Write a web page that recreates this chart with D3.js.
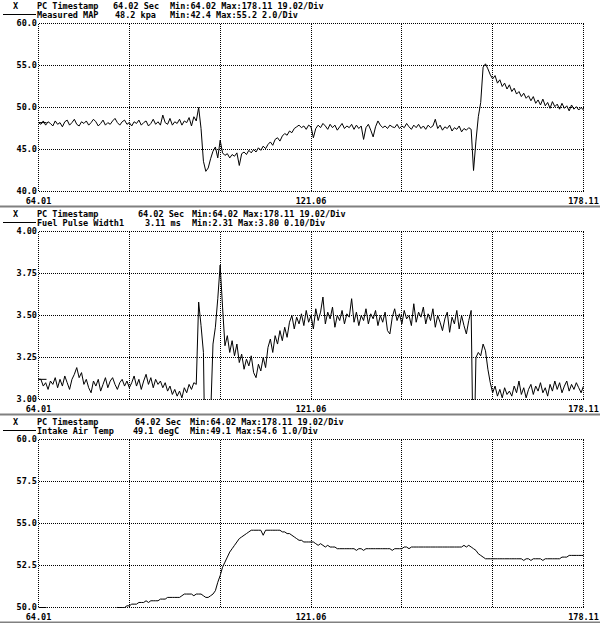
<!DOCTYPE html>
<html><head><meta charset="utf-8">
<script src="https://cdn.jsdelivr.net/npm/d3@7"></script>
<style>
html,body{margin:0;padding:0;background:#fff;}
svg{display:block;}
text{font-family:"DejaVu Sans Mono",monospace;font-size:8.5px;font-weight:bold;fill:#000;}
</style>
</head><body><svg id="c" width="600" height="623"></svg>
<script>
// ---- data ----
const timeStart = 64.01, timeEnd = 178.11;
const xGridValues = [64.01, 83.03, 102.04, 121.06, 140.08, 159.09, 178.11];
const xLabelValues = [64.01, 121.06, 178.11];
const xLabels = ["64.01", "121.06", "178.11"];
const timeHeader = ["PC Timestamp", "64.02 Sec", "Min:64.02 Max:178.11 19.02/Div"];
const channelNames = ["Measured MAP", "Fuel Pulse Width1", "Intake Air Temp"];
const cursorReadouts = ["48.2 kpa", "3.11 ms", "49.1 degC"];
const channelStats = ["Min:42.4 Max:55.2 2.0/Div", "Min:2.31 Max:3.80 0.10/Div", "Min:49.1 Max:54.6 1.0/Div"];
const yDomains = [[40, 60], [3, 4], [50, 60]];
const yTickValues = [[60, 55, 50, 45, 40], [4, 3.75, 3.5, 3.25, 3], [60, 57.5, 55, 52.5, 50]];
const yTickLabels = [["60.0", "55.0", "50.0", "45.0", "40.0"], ["4.00", "3.75", "3.50", "3.25", "3.00"], ["60.0", "57.5", "55.0", "52.5", "50.0"]];

const mapValues = [
 48.2, 48.0, 48.4, 47.9, 48.3, 48.1, 47.8, 48.4, 48.0, 48.2,
 47.7, 48.3, 48.5, 47.9, 48.2, 48.6, 48.0, 47.8, 48.3, 48.1,
 48.4, 47.9, 48.2, 48.6, 48.3, 47.8, 48.1, 48.5, 47.9, 48.2,
 48.0, 48.4, 48.7, 48.2, 47.9, 48.3, 48.5, 48.0, 48.2, 47.8,
 48.3, 48.1, 48.5, 47.9, 48.2, 48.4, 47.8, 48.1, 48.6, 48.0,
 48.3, 47.9, 49.1, 48.2, 48.0, 48.7, 47.9, 48.3, 48.1, 48.6,
 47.9, 48.4, 48.2, 48.8, 47.8, 48.9, 48.4, 50.0, 47.5, 43.6,
 42.4, 42.8, 43.9, 44.8, 45.3, 44.0, 46.1, 44.6, 44.3, 44.5,
 44.0, 44.4, 44.2, 44.6, 43.1, 44.5, 44.7, 44.4, 44.9, 44.6,
 45.0, 44.7, 45.2, 44.9, 45.4, 45.1, 45.6, 45.9, 45.5, 46.2,
 46.4, 46.0, 46.6, 46.9, 46.7, 47.2, 47.0, 47.5, 47.7, 47.9,
 47.6, 47.8, 47.4, 47.9, 47.7, 46.4, 47.5, 47.9, 47.6, 48.1,
 47.8, 47.4, 48.0, 47.6, 47.9, 47.3, 47.7, 48.1, 47.5, 47.8,
 47.6, 48.0, 47.4, 47.9, 47.5, 47.8, 46.2, 47.6, 48.0, 47.3,
 46.5, 47.7, 48.4, 47.9, 47.6, 47.8, 47.5, 47.9, 47.7, 47.6,
 48.0, 47.5, 47.8, 47.6, 48.1, 47.7, 47.4, 47.9, 47.6, 48.0,
 47.5, 47.8, 47.4, 47.9, 47.6, 47.8, 48.6, 47.5, 47.9, 47.3,
 47.7, 47.5, 47.9, 47.2, 47.6, 47.4, 47.8, 47.1, 47.5, 47.3,
 47.6, 47.4, 42.5, 46.0, 48.9, 50.6, 54.8, 55.2, 54.6, 53.9,
 53.4, 53.8, 52.9, 53.3, 52.5, 52.9, 52.2, 52.7, 51.9, 52.3,
 51.6, 51.9, 51.3, 51.7, 51.1, 51.4, 50.8, 51.3, 50.5, 50.9,
 50.3, 51.0, 50.2, 50.6, 49.9, 50.7, 50.1, 50.4, 49.8, 50.5,
 49.9, 50.2, 49.6, 50.3, 49.8, 50.1, 49.7, 50.0, 49.7
];

const fuelValues = [
 3.12, 3.12, 3.08, 3.10, 3.06, 3.11, 3.09, 3.13, 3.07, 3.12,
 3.08, 3.14, 3.10, 3.06, 3.12, 3.15, 3.19, 3.13, 3.16, 3.09,
 3.12, 3.07, 3.04, 3.11, 3.08, 3.12, 3.05, 3.09, 3.13, 3.07,
 3.11, 3.13, 3.09, 3.06, 3.10, 3.12, 3.08, 3.11, 3.07, 3.10,
 3.14, 3.08, 3.12, 3.06, 3.11, 3.15, 3.09, 3.13, 3.07, 3.12,
 3.09, 3.11, 3.07, 3.10, 3.05, 3.08, 3.03, 3.06, 3.02, 3.05,
 3.01, 3.07, 3.04, 3.09, 3.06, 3.10, 3.09, 3.58, 3.44, 3.28,
 2.31, 2.70, 2.90, 3.33, 3.43, 3.60, 3.80, 3.55, 3.32, 3.38,
 3.28, 3.35, 3.26, 3.33, 3.22, 3.27, 3.18, 3.24, 3.20, 3.26,
 3.16, 3.13, 3.21, 3.17, 3.25, 3.19, 3.31, 3.36, 3.28, 3.38,
 3.33, 3.41, 3.35, 3.43, 3.37, 3.46, 3.50, 3.42, 3.49, 3.45,
 3.51, 3.44, 3.53, 3.46, 3.50, 3.42, 3.54, 3.47, 3.52, 3.61,
 3.45, 3.52, 3.48, 3.55, 3.43, 3.50, 3.47, 3.53, 3.45, 3.51,
 3.49, 3.60, 3.46, 3.52, 3.44, 3.50, 3.47, 3.54, 3.45, 3.51,
 3.48, 3.53, 3.44, 3.50, 3.46, 3.52, 3.41, 3.39, 3.49, 3.54,
 3.47, 3.51, 3.45, 3.53, 3.48, 3.50, 3.44, 3.57, 3.46, 3.52,
 3.49, 3.55, 3.45, 3.51, 3.47, 3.54, 3.43, 3.50, 3.46, 3.41,
 3.48, 3.52, 3.40, 3.49, 3.45, 3.53, 3.42, 3.50, 3.44, 3.39,
 3.47, 3.53, 2.50, 3.25, 3.28, 3.26, 3.33, 3.29, 3.18, 3.10,
 3.04, 3.08, 3.02, 3.06, 3.01, 3.07, 3.03, 3.05, 3.02, 3.08,
 3.04, 3.11, 3.03, 3.07, 3.01, 3.06, 3.09, 3.03, 3.08, 3.05,
 3.10, 3.04, 3.07, 3.02, 3.09, 3.05, 3.11, 3.06, 3.10, 3.04,
 3.08, 3.11, 3.05, 3.09, 3.06, 3.10, 3.07, 3.04, 3.08
];

const iatValues = [
 49.1, 49.1, 49.1, 49.2, 49.2, 49.2, 49.2, 49.3, 49.3, 49.3,
 49.3, 49.4, 49.4, 49.4, 49.4, 49.5, 49.5, 49.5, 49.5, 49.6,
 49.6, 49.6, 49.6, 49.7, 49.7, 49.7, 49.8, 49.8, 49.8, 49.8,
 49.9, 49.9, 49.9, 50.0, 50.0, 50.0, 50.0, 50.1, 50.1, 50.2,
 50.2, 50.2, 50.3, 50.3, 50.3, 50.4, 50.3, 50.4, 50.4, 50.4,
 50.4, 50.5, 50.5, 50.5, 50.6, 50.6, 50.6, 50.6, 50.6, 50.6,
 50.7, 50.8, 50.8, 50.8, 50.8, 50.7, 50.8, 50.8, 50.8, 50.7,
 50.6, 50.6, 50.7, 50.8, 51.0, 51.5, 51.9, 52.4, 52.7, 53.0,
 53.3, 53.5, 53.7, 53.9, 54.1, 54.2, 54.3, 54.4, 54.5, 54.6,
 54.6, 54.6, 54.6, 54.6, 54.3, 54.6, 54.6, 54.6, 54.6, 54.6,
 54.6, 54.6, 54.5, 54.5, 54.4, 54.4, 54.3, 54.2, 54.1, 54.0,
 54.0, 53.9, 53.9, 53.9, 53.9, 53.9, 53.8, 53.7, 53.8, 53.7,
 53.6, 53.7, 53.6, 53.6, 53.6, 53.5, 53.5, 53.5, 53.5, 53.5,
 53.5, 53.5, 53.5, 53.4, 53.5, 53.5, 53.4, 53.5, 53.5, 53.5,
 53.5, 53.5, 53.5, 53.5, 53.5, 53.5, 53.5, 53.5, 53.4, 53.5,
 53.5, 53.5, 53.5, 53.6, 53.6, 53.5, 53.6, 53.6, 53.6, 53.6,
 53.6, 53.6, 53.6, 53.6, 53.6, 53.6, 53.6, 53.6, 53.6, 53.6,
 53.6, 53.6, 53.6, 53.6, 53.6, 53.6, 53.6, 53.6, 53.7, 53.6,
 53.7, 53.6, 53.5, 53.4, 53.2, 53.1, 53.0, 52.9, 52.9, 52.9,
 52.9, 52.9, 52.9, 52.9, 52.9, 52.9, 52.9, 52.9, 52.9, 52.9,
 52.9, 52.9, 52.9, 52.8, 52.9, 52.9, 52.8, 52.9, 52.9, 52.9,
 52.9, 52.8, 52.9, 52.9, 52.9, 52.9, 52.9, 52.9, 52.9, 53.0,
 53.0, 53.0, 53.1, 53.1, 53.1, 53.1, 53.1, 53.1, 53.1
];
const seriesValues = [mapValues, fuelValues, iatValues];

// ---- layout ----
const svg = d3.select("#c");
const plotLeft = 38.5, plotRight = 583.5;
const panelStep = 208;
const header2X = [[113, 115], [138, 145], [135, 133]];
const header3X = [170, 192, 190];

const x = d3.scaleLinear().domain([timeStart, timeEnd]).range([plotLeft, plotRight]);

seriesValues.forEach((vals, k) => {
  const off = k * panelStep;
  const top = 23.5 + off, bottom = 191.5 + off;
  const y = d3.scaleLinear().domain(yDomains[k]).range([bottom, top]);
  const g = svg.append("g");

  // header
  g.append("text").attr("x", 13).attr("y", 9 + off).text("X");
  g.append("text").attr("x", 37).attr("y", 9 + off).text(timeHeader[0]);
  g.append("text").attr("x", header2X[k][0]).attr("y", 9 + off).text(timeHeader[1]);
  g.append("text").attr("x", header3X[k]).attr("y", 9 + off).text(timeHeader[2]);
  g.append("line").attr("x1", 3).attr("x2", 36).attr("y1", 14.5 + off).attr("y2", 14.5 + off)
    .attr("stroke", "#000").attr("shape-rendering", "crispEdges");
  g.append("text").attr("x", 37).attr("y", 18 + off).text(channelNames[k]);
  g.append("text").attr("x", header2X[k][1]).attr("y", 18 + off).text(cursorReadouts[k]);
  g.append("text").attr("x", header3X[k]).attr("y", 18 + off).text(channelStats[k]);

  // grid
  g.selectAll(".hg").data(yTickValues[k]).enter().append("line")
    .attr("x1", plotLeft).attr("x2", plotRight)
    .attr("y1", d => y(d)).attr("y2", d => y(d))
    .attr("stroke", "#000").attr("stroke-dasharray", "1,1").attr("shape-rendering", "crispEdges");
  g.selectAll(".vg").data(xGridValues).enter().append("line")
    .attr("x1", d => x(d)).attr("x2", d => x(d))
    .attr("y1", top).attr("y2", bottom)
    .attr("stroke", "#000").attr("stroke-dasharray", "1,1").attr("shape-rendering", "crispEdges");

  // y labels
  g.selectAll(".yl").data(yTickValues[k]).enter().append("text")
    .attr("x", 37).attr("y", d => y(d) + 2).attr("text-anchor", "end")
    .text((d, i) => yTickLabels[k][i]);
  // x labels
  g.selectAll(".xl").data(xLabelValues).enter().append("text")
    .attr("x", d => x(d)).attr("y", bottom + 12.5).attr("text-anchor", "middle")
    .text((d, i) => xLabels[i]);

  // data line
  const clipId = "clip" + k;
  svg.append("clipPath").attr("id", clipId).append("rect")
    .attr("x", plotLeft - 1).attr("y", top - 0.5).attr("width", plotRight - plotLeft + 2).attr("height", bottom - top + 1);
  const n = vals.length;
  const pts = vals.map((v, i) => [timeStart + i * (timeEnd - timeStart) / (n - 1), v]);
  g.append("path").datum(pts)
    .attr("clip-path", `url(#${clipId})`)
    .attr("fill", "none").attr("stroke", "#000").attr("stroke-width", 1)
    .attr("d", d3.line().x(d => x(d[0])).y(d => y(d[1])));
  // cursor marker at first sample (clamped)
  const yc = y(Math.max(yDomains[k][0], Math.min(yDomains[k][1], vals[0])));
  g.append("line").attr("x1", plotLeft).attr("x2", plotLeft + 8).attr("y1", yc).attr("y2", yc)
    .attr("stroke", "#000");

  // separator
  g.append("rect").attr("x", 0).attr("y", 205.5 + off).attr("width", 600).attr("height", 2).attr("fill", "#808080");
});
</script>
</body></html>
